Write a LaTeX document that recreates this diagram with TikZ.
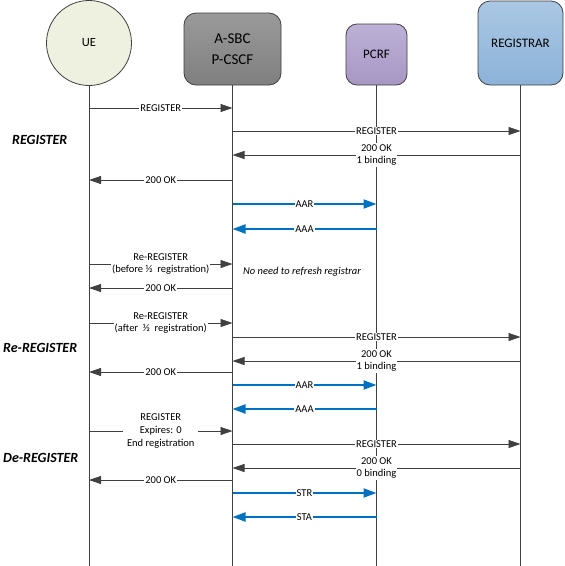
\documentclass[tikz,border=0pt]{standalone}
\usepackage{fontspec}
\setmainfont{Carlito}
\usetikzlibrary{arrows.meta}
\definecolor{linegrey}{HTML}{404040}
\definecolor{uefill}{HTML}{EEF1E0}
\definecolor{sbctop}{HTML}{9A9A9A}
\definecolor{sbcbot}{HTML}{7F7F7F}
\definecolor{pcrftop}{HTML}{BDB1D7}
\definecolor{pcrfbot}{HTML}{A797C3}
\definecolor{regtop}{HTML}{AAC8E4}
\definecolor{regbot}{HTML}{8CB2D8}
\definecolor{diamblue}{HTML}{0070C0}
\tikzset{
  entity/.style={draw=linegrey, line width=0.8pt, align=center, inner sep=0pt, text=black},
  lifeline/.style={draw=linegrey, line width=0.8pt},
  msg/.style={draw=linegrey, line width=0.8pt, -{Triangle[length=12pt,width=8pt]}, color=linegrey},
  bmsg/.style={draw=diamblue, line width=2pt, -{Triangle[length=13pt,width=9pt]}, color=diamblue},
  lbl/.style={midway, fill=white, inner sep=1pt, align=center, text=black, font=\fontsize{10.5}{12.8}\selectfont},
  section/.style={anchor=west, inner sep=0pt, font=\fontsize{14}{16}\selectfont\bfseries\itshape},
}
\begin{document}
\begin{tikzpicture}[x=1pt,y=-1pt]
\useasboundingbox (0,0) rectangle (565,566);
\fill[white] (0,0) rectangle (565,566);
% entities
\node[entity, circle, fill=uefill, minimum size=85pt, font=\fontsize{12.5}{15}\selectfont] (ue) at (89,43) {UE};
\node[entity, rectangle, rounded corners=12pt, top color=sbctop, bottom color=sbcbot, minimum width=97pt, minimum height=72pt, font=\fontsize{15}{21}\selectfont] (sbc) at (232.5,49) {A-SBC\\P-CSCF};
\node[entity, rectangle, rounded corners=11pt, top color=pcrftop, bottom color=pcrfbot, minimum width=61pt, minimum height=61pt, font=\fontsize{13}{15}\selectfont] (pcrf) at (376.5,54.5) {PCRF};
\node[entity, rectangle, rounded corners=12pt, top color=regtop, bottom color=regbot, minimum width=85pt, minimum height=84pt, font=\fontsize{13}{15}\selectfont] (reg) at (520.5,43) {REGISTRAR};
% lifeline ends
\coordinate (ueend) at (89,566);
\coordinate (sbcend) at (232.5,566);
\coordinate (pcrfend) at (376.5,566);
\coordinate (regend) at (520.5,566);
\draw[lifeline] (ue.south) -- (ueend);
\draw[lifeline] (sbc.south) -- (sbcend);
\draw[lifeline] (pcrf.south) -- (pcrfend);
\draw[lifeline] (reg.south) -- (regend);
% section labels
\node[section] (s1) at (12,140) {REGISTER};
\node[section] (s2) at (3,348) {Re-REGISTER};
\node[section] (s3) at (3,458) {De-REGISTER};
% REGISTER
\draw[msg] (ue |- 0,108) -- node[lbl]{REGISTER} (sbc |- 0,108);
\draw[msg] (sbc |- 0,131) -- node[lbl]{REGISTER} (reg |- 0,131);
\draw[msg] (reg |- 0,155) -- node[lbl]{200 OK\\1 binding} (sbc |- 0,155);
\draw[msg] (sbc |- 0,180) -- node[lbl]{200 OK} (ue |- 0,180);
\draw[bmsg] (sbc |- 0,204) -- node[lbl]{AAR} (pcrf |- 0,204);
\draw[bmsg] (pcrf |- 0,229) -- node[lbl]{AAA} (sbc |- 0,229);
% Re-REGISTER
\draw[msg] (ue |- 0,264) -- node[lbl]{Re-REGISTER\\(before ½\ \ registration)} (sbc |- 0,264);
\node[anchor=west, inner sep=0pt, font=\fontsize{10.5}{12.8}\selectfont\itshape] (noneed) at (243,272) {No need to refresh registrar};
\draw[msg] (sbc |- 0,288) -- node[lbl]{200 OK} (ue |- 0,288);
\draw[msg] (ue |- 0,323) -- node[lbl]{Re-REGISTER\\(after\ \ ½\ \ registration)} (sbc |- 0,323);
\draw[msg] (sbc |- 0,337) -- node[lbl]{REGISTER} (reg |- 0,337);
\draw[msg] (reg |- 0,361) -- node[lbl]{200 OK\\1 binding} (sbc |- 0,361);
\draw[msg] (sbc |- 0,372) -- node[lbl]{200 OK} (ue |- 0,372);
\draw[bmsg] (sbc |- 0,385) -- node[lbl]{AAR} (pcrf |- 0,385);
\draw[bmsg] (pcrf |- 0,409) -- node[lbl]{AAA} (sbc |- 0,409);
% De-REGISTER
\draw[msg] (ue |- 0,431) -- node[lbl, inner xsep=4pt]{REGISTER\\Expires: 0\\End registration} (sbc |- 0,431);
\draw[msg] (sbc |- 0,444) -- node[lbl]{REGISTER} (reg |- 0,444);
\draw[msg] (reg |- 0,468) -- node[lbl]{200 OK\\0 binding} (sbc |- 0,468);
\draw[msg] (sbc |- 0,480) -- node[lbl]{200 OK} (ue |- 0,480);
\draw[bmsg] (sbc |- 0,493) -- node[lbl]{STR} (pcrf |- 0,493);
\draw[bmsg] (pcrf |- 0,517) -- node[lbl]{STA} (sbc |- 0,517);
\end{tikzpicture}
\end{document}
